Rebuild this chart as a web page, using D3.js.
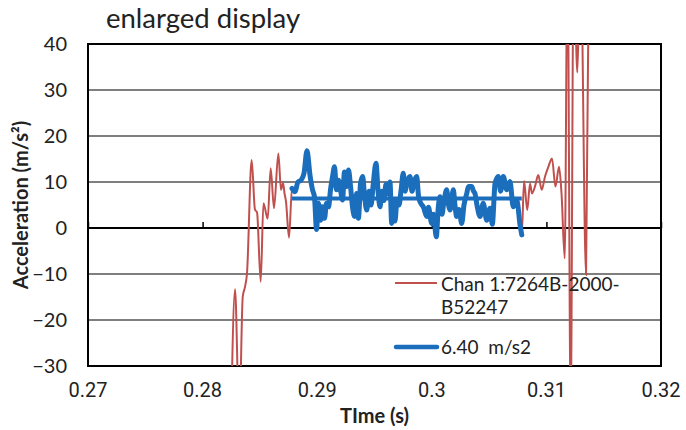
<!DOCTYPE html>
<html>
<head>
<meta charset="utf-8">
<script src="https://cdn.jsdelivr.net/npm/d3@7"></script>
<style>
  body { margin: 0; background: #fff; }
  svg { display: block; }
</style>
</head>
<body>
<svg id="chart" width="686" height="430"></svg>
<script>
// Acceleration record, channel 1 (time in s, acceleration in m/s^2)
const timeS = [
  0.28248, 0.28283, 0.28320, 0.28350, 0.28370, 0.28387, 0.28428, 0.28457, 0.28475, 0.28507,
  0.28531, 0.28568, 0.28594, 0.28623, 0.28661, 0.28684, 0.28702, 0.28715, 0.28728, 0.28754,
  0.28780, 0.28806, 0.28832, 0.28859, 0.28885, 0.28911, 0.28937, 0.28959, 0.28976, 0.28994,
  0.29011, 0.29029, 0.29046, 0.29064, 0.29081, 0.29099, 0.29116, 0.29134, 0.29151, 0.29168,
  0.29186, 0.29203, 0.29221, 0.29238, 0.29256, 0.29273, 0.29291, 0.29308, 0.29326, 0.29343,
  0.29360, 0.29378, 0.29397, 0.29413, 0.29432, 0.29452, 0.29470, 0.29487, 0.29513, 0.29531,
  0.29548, 0.29565, 0.29583, 0.29600, 0.29618, 0.29635, 0.29650, 0.29666, 0.29679, 0.29696,
  0.29714, 0.29731, 0.29751, 0.29766, 0.29784, 0.29810, 0.29827, 0.29845, 0.29868, 0.29884,
  0.29901, 0.29926, 0.29956, 0.29971, 0.29999, 0.30015, 0.30039, 0.30057, 0.30072, 0.30089,
  0.30107, 0.30130, 0.30146, 0.30159, 0.30188, 0.30202, 0.30217, 0.30237, 0.30261, 0.30281,
  0.30305, 0.30320, 0.30348, 0.30364, 0.30377, 0.30394, 0.30421, 0.30449, 0.30479, 0.30508,
  0.30528, 0.30552, 0.30580, 0.30600, 0.30624, 0.30654, 0.30682, 0.30711, 0.30741, 0.30770,
  0.30785, 0.30805, 0.30833, 0.30857, 0.30874, 0.30900, 0.30929, 0.30959, 0.30988, 0.31017,
  0.31049, 0.31079, 0.31110, 0.31132, 0.31160, 0.31184, 0.31212, 0.31238, 0.31270, 0.31298,
  0.31346, 0.31372
];
const accel = [
  -42, -13.3, -42, -15, -12.8, -10, 14.8, 4, 3.4, -11.7,
  5.4, 2, 13, 4.3, 16.2, 8.3, 9.8, 7.5, 5.7, -2.1,
  8.6, 7.9, 10, 10.4, 11.9, 16.8, 11.5, 8.3, 6.8, -0.3,
  5.4, 1.7, 4.6, 2.1, 5.4, 4.6, 8.3, 11.2, 13.3, 8.3,
  10.4, 8.3, 6.1, 12.2, 9.0, 12.6, 9, 4.6, 2.5, 7.5,
  2.1, 9.7, 11.2, 7, 3.9, 8, 5, 9, 14.1, 8,
  4.6, 8, 6, 9.5, 7.5, 10, 1, 6, 1.5, 6,
  5, 8, 11.9, 8, 10, 11.2, 8, 10, 11.2, 7,
  5.5, 4.6, 2.5, 4.5, 1, 3, -1.9, 4.6, 6.8, 3,
  6, 8.3, 5, 3.9, 8.3, 5, 2.5, 4, 1, 5,
  7.5, 9, 9, 8, 7.5, 5, 2.5, 5.4, 1.7, 4.3,
  0.8, 9.7, 11.2, 8, 11.2, 8.3, 10.1, 4.6, 6.1, 0.7,
  -1.5, 10.2, 3.9, 9.7, 7.5, 9, 11.5, 8.3, 11.2, 13.3,
  15.1, 9, 13.3, 7.5, -6.6, 60, -40, 60, 33.8, 60,
  -10.2, 60
];

// Averaging window and its mean value
const windowStart = 0.28780;
const windowEnd = 0.30785;
const meanAccel = 6.40;

const xTicks = [0.27, 0.28, 0.29, 0.30, 0.31, 0.32];
const xTickLabels = ["0.27", "0.28", "0.29", "0.3", "0.31", "0.32"];
const yTicks = [-30, -20, -10, 0, 10, 20, 30, 40];

const legendSeries = ["Chan 1:7264B-2000-", "B52247"];
const legendMean = "6.40  m/s2";

const RED = "#c0504d";
const BLUE = "#1b6ebc";

const margin = { left: 88, right: 25, top: 44, bottom: 64 };
const W = 686, H = 430;
const svg = d3.select("#chart");
svg.append("rect").attr("width", W).attr("height", H).attr("fill", "#fff");

const x = d3.scaleLinear().domain([0.27, 0.32]).range([margin.left, W - margin.right]);
const y = d3.scaleLinear().domain([-30, 40]).range([H - margin.bottom, margin.top]);

const points = timeS.map((t, i) => ({ t, a: accel[i] }));
const windowed = points.filter(p => p.t >= windowStart && p.t <= windowEnd);

svg.append("defs").append("clipPath").attr("id", "plotClip")
  .append("rect")
  .attr("x", x(0.27)).attr("y", y(40))
  .attr("width", x(0.32) - x(0.27)).attr("height", y(-30) - y(40));

// Horizontal gridlines
svg.append("g")
  .selectAll("line")
  .data(yTicks.filter(v => v !== 0 && v !== -30 && v !== 40))
  .join("line")
  .attr("x1", x(0.27)).attr("x2", x(0.32))
  .attr("y1", d => y(d)).attr("y2", d => y(d))
  .attr("stroke", "#000").attr("stroke-width", 1.2);

// Horizontal axis crossing at zero, ticks pointing up
const xAxis = d3.axisTop(x).tickValues(xTicks).tickSize(6).tickFormat("");
const gx = svg.append("g").attr("transform", `translate(0,${y(0)})`).call(xAxis);
gx.select(".domain").remove();
gx.selectAll(".tick line").attr("stroke", "#000").attr("stroke-width", 1.5);
svg.append("line")
  .attr("x1", x(0.27)).attr("x2", x(0.32))
  .attr("y1", y(0)).attr("y2", y(0))
  .attr("stroke", "#000").attr("stroke-width", 2);

// Plot frame
svg.append("rect")
  .attr("x", x(0.27)).attr("y", y(40))
  .attr("width", x(0.32) - x(0.27)).attr("height", y(-30) - y(40))
  .attr("fill", "none").attr("stroke", "#000").attr("stroke-width", 2);

const line = d3.line()
  .x(d => x(d.t)).y(d => y(d.a))
  .curve(d3.curveMonotoneX);

const plot = svg.append("g").attr("clip-path", "url(#plotClip)");
plot.append("path")
  .datum(points)
  .attr("d", line)
  .attr("fill", "none")
  .attr("stroke", RED).attr("stroke-width", 2)
  .attr("stroke-linejoin", "round");

plot.append("path")
  .datum(windowed)
  .attr("d", line)
  .attr("fill", "none")
  .attr("stroke", BLUE).attr("stroke-width", 5)
  .attr("stroke-linejoin", "round").attr("stroke-linecap", "round");

plot.append("line")
  .attr("x1", x(windowStart)).attr("x2", x(windowEnd))
  .attr("y1", y(meanAccel)).attr("y2", y(meanAccel))
  .attr("stroke", BLUE).attr("stroke-width", 4);

// Y tick labels
const yAxis = d3.axisLeft(y).tickValues(yTicks).tickSize(0).tickPadding(21);
const gy = svg.append("g").attr("transform", `translate(${x(0.27)},0)`).call(yAxis);
gy.select(".domain").remove();
gy.selectAll("text")
  .attr("font-family", "Lato, 'Open Sans', sans-serif")
  .attr("font-size", 20).attr("fill", "#222");

// X tick labels along the bottom
svg.append("g")
  .selectAll("text")
  .data(xTicks)
  .join("text")
  .attr("x", d => x(d))
  .attr("y", y(-30) + 31)
  .attr("text-anchor", "middle")
  .attr("font-family", "'Liberation Sans Narrow', 'Arial Narrow', Roboto, sans-serif")
  .attr("font-size", 20).attr("fill", "#222")
  .text((d, i) => xTickLabels[i]);

// Axis titles
svg.append("text")
  .attr("x", (x(0.27) + x(0.32)) / 2).attr("y", 423)
  .attr("text-anchor", "middle")
  .attr("font-family", "Lato, 'Open Sans', sans-serif")
  .attr("font-weight", "bold").attr("font-size", 20).attr("fill", "#222")
  .text("TIme (s)");

svg.append("text")
  .attr("transform", `translate(28,${(y(40) + y(-30)) / 2}) rotate(-90)`)
  .attr("text-anchor", "middle")
  .attr("font-family", "Lato, 'Open Sans', sans-serif")
  .attr("font-weight", "bold").attr("font-size", 20).attr("fill", "#222")
  .text("Acceleration (m/s²)");

// Title
svg.append("text")
  .attr("x", 106).attr("y", 28)
  .attr("font-family", "Lato, 'Open Sans', sans-serif")
  .attr("font-size", 27.5).attr("fill", "#222")
  .text("enlarged display");

// Legend
const lg = svg.append("g").attr("font-family", "Lato, 'Open Sans', sans-serif")
  .attr("font-size", 19).attr("fill", "#222");
lg.append("line").attr("x1", 395).attr("x2", 437).attr("y1", 283).attr("y2", 283)
  .attr("stroke", RED).attr("stroke-width", 2);
lg.selectAll("text.series").data(legendSeries).join("text")
  .attr("class", "series")
  .attr("x", 441).attr("y", (d, i) => 291 + i * 23)
  .text(d => d);
lg.append("line").attr("x1", 396).attr("x2", 437).attr("y1", 347).attr("y2", 347)
  .attr("stroke", BLUE).attr("stroke-width", 4.5).attr("stroke-linecap", "round");
lg.append("text").attr("x", 441).attr("y", 354)
  .style("white-space", "pre")
  .text(legendMean);
</script>
</body>
</html>
